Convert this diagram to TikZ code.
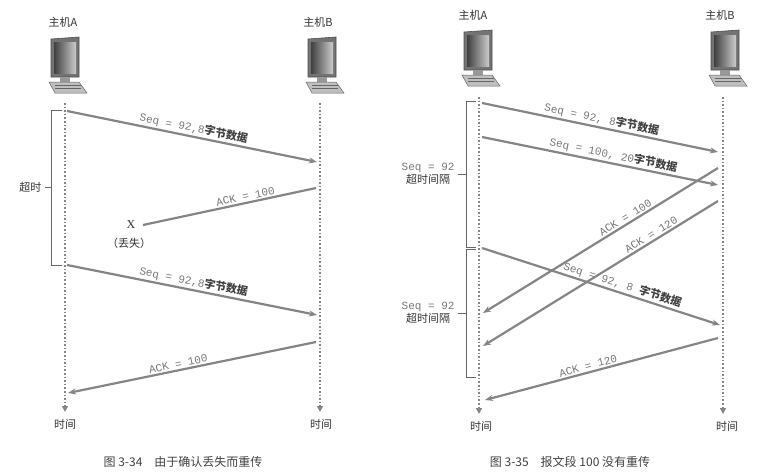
\documentclass[tikz,border=0pt]{standalone}
\usepackage{fontspec}
\setmainfont{Liberation Serif}
\setmonofont{Liberation Mono}
\newfontfamily\cjk{Noto Sans CJK SC}
\usetikzlibrary{arrows.meta,positioning}
\definecolor{linegray}{HTML}{858585}
\definecolor{txtgray}{HTML}{777777}
\tikzset{
  msg/.style={draw=linegray, line width=2.2pt, -{Stealth[length=8pt,width=6pt]}},
  lost/.style={draw=linegray, line width=2.2pt},
  timeline/.style={draw=linegray, line width=1.6pt, dotted, -{Triangle[length=6pt,width=6pt,fill=linegray]}},
  host/.style={font=\cjk\fontsize{11}{13}\selectfont, text=black!80},
  lbl/.style={font=\ttfamily\fontsize{11}{13}\selectfont, text=txtgray, sloped, above, inner sep=1.5pt},
  brace/.style={draw=black!60, line width=0.6pt},
  side/.style={font=\cjk\fontsize{11}{13}\selectfont, text=black!80, align=center},
  caption/.style={font=\cjk\fontsize{12}{14}\selectfont, text=black!75},
}
\newcommand{\cn}[1]{{\cjk\bfseries\color{black!75}#1}}
\newcommand{\computer}[1]{%
  \begin{scope}[shift={#1}]
    \fill[black!55] (-14,0) -- (14,-2) -- (14,38) -- (-14,38) -- cycle;
    \draw[black!70, line width=0.6pt] (-14,0) -- (14,-2) -- (14,38) -- (-14,38) -- cycle;
    \shade[left color=black!75, right color=black!20] (-11,3) rectangle (11,34);
    \fill[black!40] (-5,38) rectangle (5,43);
    \fill[black!25] (-16,43) -- (14,43) -- (22,54) -- (-10,54) -- cycle;
    \draw[black!60, line width=0.5pt] (-16,43) -- (14,43) -- (22,54) -- (-10,54) -- cycle;
    \foreach \k in {46.5,49.5} \draw[black!60, line width=0.5pt] (-10,\k) -- (16,\k);
  \end{scope}}
\begin{document}
\begin{tikzpicture}[x=1pt,y=-1pt]
  \useasboundingbox (0,0) rectangle (765,474);

  % ---- left: lost ACK ----
  \node[host] (hA1) at (63,22) {主机A};
  \node[host] (hB1) at (318,22) {主机B};
  \computer{(65,39)}
  \computer{(322,39)}
  \coordinate (a1t) at (65,103);
  \coordinate (a1b) at (65,412);
  \coordinate (b1t) at (320,103);
  \coordinate (b1b) at (320,412);
  \draw[timeline] (a1t) -- (a1b);
  \draw[timeline] (b1t) -- (b1b);
  \node[side] (tA1) at (65,424) {时间};
  \node[side] (tB1) at (321,424) {时间};

  \coordinate (s1) at (67,111);  \coordinate (r1) at (317,162);
  \coordinate (k1) at (316,188); \coordinate (x1) at (143,225);
  \coordinate (s2) at (67,265);  \coordinate (r2) at (317,315);
  \coordinate (k2) at (316,342); \coordinate (e2) at (68,393);
  \draw[msg] (s1) -- node[lbl] {Seq = 92,8\cn{字节数据}} (r1);
  \draw[lost] (k1) -- node[lbl, pos=0.4] {ACK = 100} (x1);
  \node[font=\fontsize{12}{14}\selectfont, text=black!80] (x) at (131,225) {X};
  \node[side] (loss) at (129,243) {（丢失）};
  \draw[msg] (s2) -- node[lbl] {Seq = 92,8\cn{字节数据}} (r2);
  \draw[msg] (k2) -- node[lbl, pos=0.55] {ACK = 100} (e2);

  \draw[brace] (62,110) -- (51,110) -- (51,265) -- (62,265);
  \draw[brace] (51,187) -- (45,187);
  \node[side, left=0pt of {(45,187)}] (to1) {超时};

  \node[caption] (cap1) at (183,462) {图 3-34\quad 由于确认丢失而重传};

  % ---- right: segment 100 not retransmitted ----
  \node[host] (hA2) at (473,15) {主机A};
  \node[host] (hB2) at (720,15) {主机B};
  \computer{(478,32)}
  \computer{(725,32)}
  \coordinate (a2t) at (479,97);
  \coordinate (a2b) at (479,414);
  \coordinate (b2t) at (723,97);
  \coordinate (b2b) at (723,414);
  \draw[timeline] (a2t) -- (a2b);
  \draw[timeline] (b2t) -- (b2b);
  \node[side] (tA2) at (481,426) {时间};
  \node[side] (tB2) at (727,426) {时间};

  \coordinate (p1) at (482,103); \coordinate (q1) at (718,152);
  \coordinate (p2) at (482,137); \coordinate (q2) at (718,185);
  \coordinate (c1) at (718,168); \coordinate (d1) at (483,313);
  \coordinate (c2) at (718,201); \coordinate (d2) at (483,346);
  \coordinate (p3) at (482,248); \coordinate (q3) at (720,325);
  \coordinate (c3) at (718,338); \coordinate (d3) at (485,400);
  \draw[msg] (p1) -- node[lbl] {Seq = 92, 8\cn{字节数据}} (q1);
  \draw[msg] (p2) -- node[lbl, pos=0.55] {Seq = 100, 20\cn{字节数据}} (q2);
  \draw[msg] (c1) -- node[lbl, pos=0.38] {ACK = 100} (d1);
  \draw[msg] (c2) -- node[lbl, pos=0.27] {ACK = 120} (d2);
  \draw[msg] (p3) -- node[lbl, pos=0.58] {Seq = 92, 8 \cn{字节数据}} (q3);
  \draw[msg] (c3) -- node[lbl, pos=0.55] {ACK = 120} (d3);

  \draw[brace] (476,101) -- (466,101) -- (466,247) -- (476,247);
  \draw[brace] (466,174) -- (458,174);
  \draw[brace] (476,249) -- (466,249) -- (466,377) -- (476,377);
  \draw[brace] (466,313) -- (458,313);
  \node[side, left=0pt of {(458,174)}] (to2) {{\ttfamily\color{txtgray}Seq = 92}\\超时间隔};
  \node[side, left=0pt of {(458,313)}] (to3) {{\ttfamily\color{txtgray}Seq = 92}\\超时间隔};

  \node[caption] (cap2) at (570,462) {图 3-35\quad 报文段 100 没有重传};
\end{tikzpicture}
\end{document}
